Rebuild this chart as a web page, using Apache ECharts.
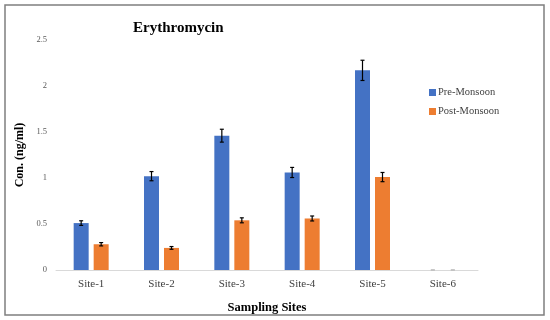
<!DOCTYPE html>
<html><head><meta charset="utf-8">
<script src="https://cdn.jsdelivr.net/npm/echarts@6/dist/echarts.min.js"></script>
<style>html,body{margin:0;padding:0;background:#fff}#c{width:550px;height:320px}</style>
</head><body><div id="c"></div>
<script>
var categories = ['Site-1','Site-2','Site-3','Site-4','Site-5','Site-6'];
var preMonsoon = [0.51, 1.02, 1.46, 1.06, 2.17, 0];
var preErr     = [0.025, 0.05, 0.07, 0.055, 0.11, 0];
var postMonsoon = [0.28, 0.24, 0.54, 0.56, 1.01, 0];
var postErr     = [0.018, 0.015, 0.027, 0.027, 0.05, 0];
var seriesNames = ['Pre-Monsoon','Post-Monsoon'];
var yTicks = {min: 0, max: 2.5, interval: 0.5};

var BAR_W = 15, GAP = 5;
function errSeries(vals, errs, offset) {
  var data = vals.map(function (v, i) { return [i, v, errs[i]]; });
  return {
    type: 'custom', z: 10, silent: true,
    data: data,
    renderItem: function (params, api) {
      var i = api.value(0), v = api.value(1), e = api.value(2);
      var hi = api.coord([i, v + e]);
      var lo = api.coord([i, v - e]);
      var x = hi[0] + offset;
      var cap = 2;
      var st = {stroke: (v === 0 ? '#bfbfbf' : '#000'), lineWidth: 1.2};
      return {type: 'group', children: [
        {type: 'line', shape: {x1: x, y1: hi[1], x2: x, y2: lo[1]}, style: st},
        {type: 'line', shape: {x1: x - cap, y1: hi[1], x2: x + cap, y2: hi[1]}, style: st},
        {type: 'line', shape: {x1: x - cap, y1: lo[1], x2: x + cap, y2: lo[1]}, style: st}
      ]};
    }
  };
}

var chart = echarts.init(document.getElementById('c'));
var serif = '"Liberation Serif", "Times New Roman", serif';
chart.setOption({
  animation: false,
  textStyle: {fontFamily: serif},
  graphic: [{type: 'rect', shape: {x: 5, y: 5, width: 539, height: 310},
    style: {fill: 'none', stroke: '#7f7f7f', lineWidth: 1.5}, z: -1}],
  title: {text: 'Erythromycin', left: 128, top: 16,
    textStyle: {fontFamily: serif, fontWeight: 'bold', fontSize: 15, color: '#000'}},
  legend: {
    data: seriesNames, orient: 'vertical', left: 424, top: 82, itemGap: 8,
    itemWidth: 7, itemHeight: 7, icon: 'rect',
    textStyle: {fontFamily: serif, fontSize: 10.5, color: '#404040', padding: [0,0,0,-3]}
  },
  grid: {left: 56, right: 72, top: 40, bottom: 50},
  xAxis: {
    type: 'category', data: categories,
    name: 'Sampling Sites', nameLocation: 'middle', nameGap: 31,
    nameTextStyle: {fontFamily: serif, fontWeight: 'bold', fontSize: 12.5, color: '#000'},
    axisLine: {lineStyle: {color: '#d9d9d9', width: 1}},
    axisTick: {show: false},
    axisLabel: {fontFamily: serif, fontSize: 11, color: '#404040', margin: 9}
  },
  yAxis: {
    type: 'value', min: yTicks.min, max: yTicks.max, interval: yTicks.interval,
    name: 'Con. (ng/ml)', nameLocation: 'middle', nameGap: 28,
    nameTextStyle: {fontFamily: serif, fontWeight: 'bold', fontSize: 12, color: '#000'},
    axisLine: {show: false}, axisTick: {show: false}, splitLine: {show: false},
    axisLabel: {fontFamily: serif, fontSize: 8.5, color: '#595959', margin: 9}
  },
  series: [
    {name: seriesNames[0], type: 'bar', data: preMonsoon, barWidth: BAR_W, barGap: (GAP / BAR_W * 100) + '%',
      itemStyle: {color: '#4472C4'}},
    {name: seriesNames[1], type: 'bar', data: postMonsoon, barWidth: BAR_W,
      itemStyle: {color: '#ED7D31'}},
    errSeries(preMonsoon, preErr, -(BAR_W + GAP) / 2),
    errSeries(postMonsoon, postErr, (BAR_W + GAP) / 2)
  ]
});
</script></body></html>
